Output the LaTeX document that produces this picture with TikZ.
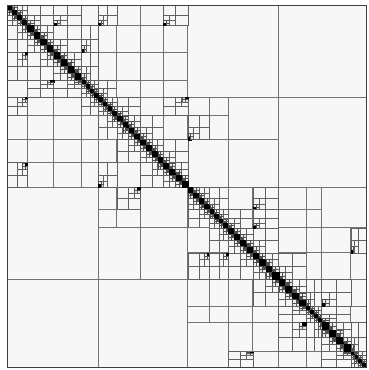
\documentclass[tikz,border=0pt]{standalone}
\def\HMarr{{0,0.057,0.13,0.208,0.255,0.306,0.372,0.436,0.504,0.565,0.616,0.685,0.757,0.833,0.877,0.958,1,1}}
\tikzset{
  bigblk/.style={draw=black!55,line width=1pt,fill=black!3},
  midblk/.style={draw=black!62,line width=0.7pt,fill=black!3},
  smlblk/.style={draw=black!68,line width=0.5pt,fill=black!8},
  denblk/.style={draw=black,line width=0.3pt,fill=black},
  nearblk/.style={draw=black!70,line width=0.3pt,fill=black!70},
  frameblk/.style={draw=black!75,line width=0.9pt}
}
\newcommand\HMset[4]{%
  \edef\hxa{\csname HX#3\endcsname}\edef\hxb{\csname HX#4\endcsname}%
  \edef\hya{\csname HY#1\endcsname}\edef\hyb{\csname HY#2\endcsname}}
\newcommand\HMadm[4]{%
  \HMset{#1}{#2}{#3}{#4}%
  \ifnum\numexpr #2-#1\relax>4\relax
    \draw[bigblk] (\hxa,\hya) rectangle (\hxb,\hyb);%
  \else\ifnum\numexpr #2-#1\relax>1\relax
    \draw[midblk] (\hxa,\hya) rectangle (\hxb,\hyb);%
  \else
    \draw[smlblk] (\hxa,\hya) rectangle (\hxb,\hyb);%
  \fi\fi}
\newcommand\HMden[5]{%
  \HMset{#1}{#2}{#3}{#4}%
  \draw[#5] (\hxa,\hya) rectangle (\hxb,\hyb);}
% rows [#1,#2), cols [#3,#4), virtual column shift #5
\newcommand\HMrec[5]{%
  \begingroup
  \edef\hn{\the\numexpr #2-#1\relax}%
  \edef\hdA{\the\numexpr #3+(#5)-#2\relax}%
  \edef\hdB{\the\numexpr #1-#4-(#5)\relax}%
  \ifnum\hdB>\hdA\relax \let\hdA\hdB\fi
  \def\hdiag{0}%
  \ifnum#1=#3\relax\ifnum\hn<3\relax\def\hdiag{1}\fi\fi
  \ifnum\hdA<\hn\relax
    \ifnum\hdiag=1\relax
      \HMden{#1}{#2}{#3}{#4}{denblk}%
    \else\ifnum\hn=1\relax
      \ifnum#5=0\relax
        \HMden{#1}{#2}{#3}{#4}{nearblk}%
      \else
        \HMden{#1}{#2}{#3}{#4}{denblk}%
      \fi
    \else
      \edef\hh{\the\numexpr \hn/2\relax}%
      \edef\ha{\the\numexpr #1+\hh\relax}%
      \edef\hc{\the\numexpr #3+\hh\relax}%
      \edef\next{\noexpand\HMrec{#1}{\ha}{#3}{\hc}{#5}%
                 \noexpand\HMrec{#1}{\ha}{\hc}{#4}{#5}%
                 \noexpand\HMrec{\ha}{#2}{#3}{\hc}{#5}%
                 \noexpand\HMrec{\ha}{#2}{\hc}{#4}{#5}}%
      \next
    \fi\fi
  \else
    \HMadm{#1}{#2}{#3}{#4}%
  \fi
  \endgroup}
\newcommand\HMcell[3]{%
  \edef\next{\noexpand\HMrec{\the\numexpr8*#1\relax}{\the\numexpr8*#1+8\relax}{\the\numexpr8*#2\relax}{\the\numexpr8*#2+8\relax}{#3}}\next}
\begin{document}
\begin{tikzpicture}[x=1pt,y=-1pt]
\useasboundingbox (0,0) rectangle (368,370);
\fill[white] (0,0) rectangle (368,370);
\foreach \i in {0,...,128}{%
  \pgfmathtruncatemacro\hk{\i/8}%
  \pgfmathtruncatemacro\hkk{\hk+1}%
  \pgfmathsetmacro\hf{(\i-8*\hk)/8}%
  \pgfmathsetmacro\hpa{\HMarr[\hk]}%
  \pgfmathsetmacro\hpb{\HMarr[\hkk]}%
  \pgfmathsetmacro\ht{\hpa+\hf*(\hpb-\hpa)}%
  \pgfmathsetmacro\hxx{7+359*\ht}%
  \pgfmathsetmacro\hyy{5+362*\ht}%
  \expandafter\xdef\csname HX\i\endcsname{\hxx}%
  \expandafter\xdef\csname HY\i\endcsname{\hyy}%
}
% admissible level-2 blocks
\HMadm{0}{32}{64}{96}\HMadm{0}{32}{96}{128}\HMadm{32}{64}{96}{128}
\HMadm{64}{96}{0}{32}\HMadm{96}{128}{0}{32}\HMadm{96}{128}{32}{64}
% A2 x B1 and mirror
\HMadm{32}{48}{80}{96}\HMadm{48}{64}{64}{80}\HMadm{48}{64}{80}{96}
\HMadm{80}{96}{32}{48}\HMadm{64}{80}{48}{64}\HMadm{80}{96}{48}{64}
\HMcell{4}{8}{0}\HMcell{4}{9}{0}\HMcell{5}{9}{0}
\HMcell{8}{4}{0}\HMcell{9}{4}{0}\HMcell{9}{5}{0}
% B1 x B2 and mirror
\HMadm{64}{80}{112}{128}\HMadm{112}{128}{64}{80}
\foreach \i in {8,9}{\foreach \j in {12,13}{\HMcell{\i}{\j}{0}\HMcell{\j}{\i}{0}}}
\foreach \i in {10,11}{\foreach \j in {12,...,15}{\HMcell{\i}{\j}{0}\HMcell{\j}{\i}{0}}}
% A1 x A2 and mirror
\foreach \i in {0,...,3}{\foreach \j in {4,...,7}{\HMcell{\i}{\j}{0}\HMcell{\j}{\i}{0}}}
% diagonal level-2 blocks
\HMrec{0}{32}{0}{32}{0}
\HMrec{32}{64}{32}{64}{0}
\HMrec{64}{96}{64}{96}{0}
\HMrec{96}{128}{96}{128}{0}
% geometrically close cells
\HMcell{0}{4}{-24}\HMcell{4}{0}{24}
\HMcell{0}{7}{-48}\HMcell{7}{0}{48}
\HMcell{5}{8}{-16}\HMcell{8}{5}{16}
\HMcell{10}{15}{-32}\HMcell{15}{10}{32}
\HMcell{8}{11}{-16}\HMcell{11}{8}{16}
\HMcell{12}{14}{-8}\HMcell{14}{12}{8}
\HMcell{4}{7}{-32}\HMcell{7}{4}{32}
\HMcell{0}{2}{-8}\HMcell{2}{0}{8}
\HMcell{1}{3}{-8}\HMcell{3}{1}{8}
\HMcell{9}{11}{-8}\HMcell{11}{9}{8}
% outer frame
\draw[frameblk] (\csname HX0\endcsname,\csname HY0\endcsname) rectangle (\csname HX128\endcsname,\csname HY128\endcsname);
\end{tikzpicture}
\end{document}
